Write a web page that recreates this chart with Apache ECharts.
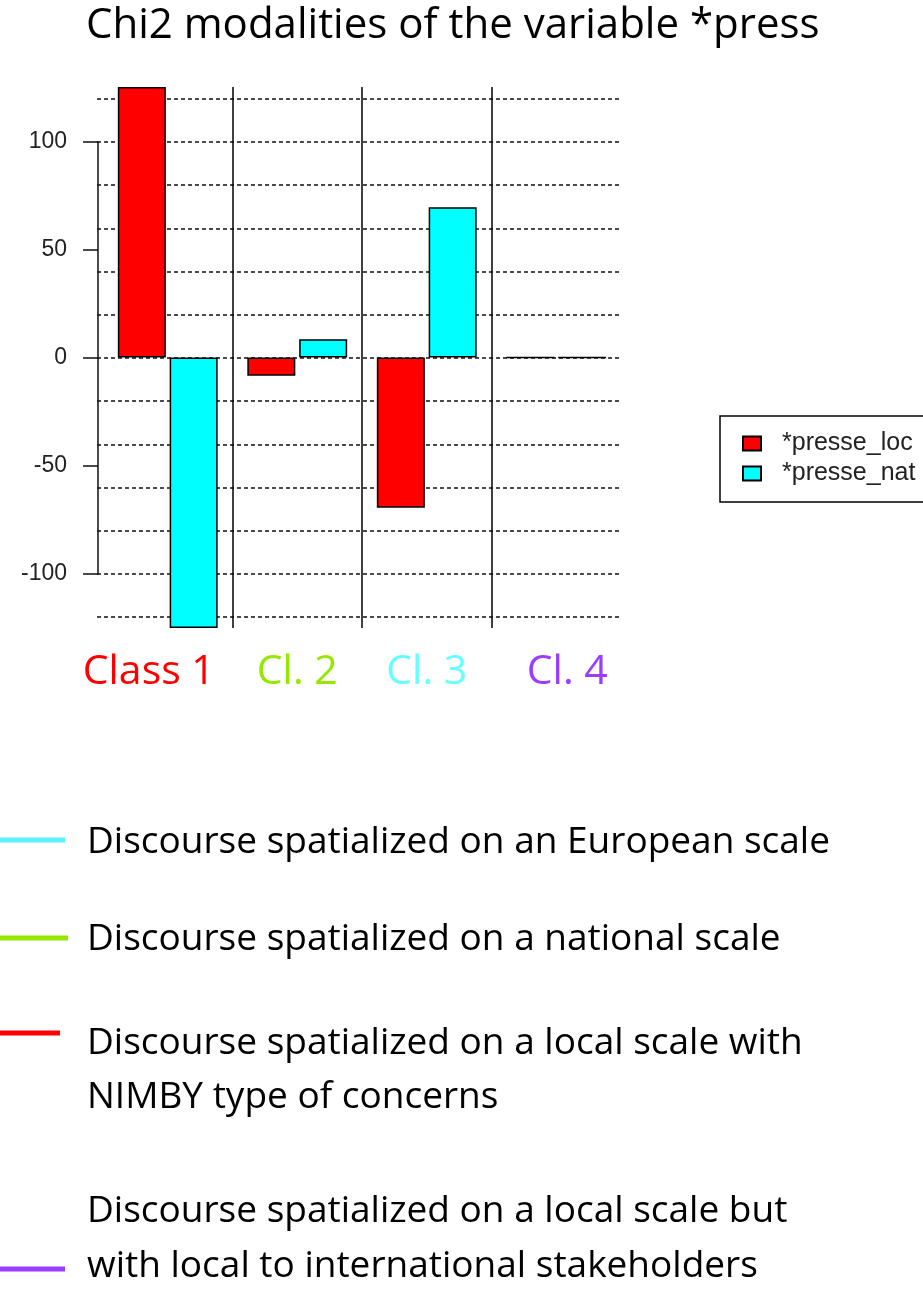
<!DOCTYPE html>
<html>
<head>
<meta charset="utf-8">
<title>Chi2 modalities of the variable *press</title>
<script src="https://cdn.jsdelivr.net/npm/echarts@6/dist/echarts.min.js"></script>
<style>
  html, body { margin: 0; padding: 0; background: #fff; }
  #chart { width: 923px; height: 1292px; }
</style>
</head>
<body>
<div id="chart"></div>
<script>
// data
const categories = ['Class 1', 'Cl. 2', 'Cl. 3', 'Cl. 4']
const presseLoc = [125.2, -8.4, -69.5, 0]
const presseNat = [-125.2, 8.4, 69.5, 0]
const seriesNames = ['*presse_loc', '*presse_nat']
const classColors = ['#ff0000', '#94e800', '#66ffff', '#9b3dff']
const yTickLabels = [-100, -50, 0, 50, 100]

// bottom notes (colour line + text)
const notes = [
  { color: '#5cf2ff', lines: ['Discourse spatialized on an European scale'] },
  { color: '#94e800', lines: ['Discourse spatialized on a national scale'] },
  { color: '#ff0000', lines: ['Discourse spatialized on a local scale with', 'NIMBY type of concerns'] },
  { color: '#9b3dff', lines: ['Discourse spatialized on a local scale but', 'with local to international stakeholders'] }
]

const chart = echarts.init(document.getElementById('chart'))

const textFont = 'Open Sans'

const classRich = {
  c0: { color: classColors[0], padding: [0, 38, 0, 0] },
  c1: { color: classColors[1] },
  c2: { color: classColors[2] },
  c3: { color: classColors[3], padding: [0, 0, 0, 22] }
}

// notes layout
const noteLayout = [
  { lineY: 840, lineEnd: 65, textY: [842] },
  { lineY: 938, lineEnd: 68, textY: [939] },
  { lineY: 1033, lineEnd: 60, textY: [1043, 1097] },
  { lineY: 1269, lineEnd: 65, textY: [1211, 1266] }
]
const graphics = []
notes.forEach((n, i) => {
  const L = noteLayout[i]
  graphics.push({
    type: 'line',
    shape: { x1: 0, y1: L.lineY, x2: L.lineEnd, y2: L.lineY },
    style: { stroke: n.color, lineWidth: 5 }
  })
  n.lines.forEach((t, j) => {
    graphics.push({
      type: 'text',
      x: 87,
      y: L.textY[j],
      style: {
        text: t,
        fill: '#000',
        font: '37px "Open Sans"',
        verticalAlign: 'middle'
      }
    })
  })
})

const option = {
  animation: false,
  title: {
    text: 'Chi2 modalities of the variable *press',
    left: 86,
    top: 5,
    padding: 0,
    textStyle: { fontFamily: textFont, fontSize: 42, fontWeight: 'normal', color: '#000' }
  },
  legend: {
    orient: 'vertical',
    left: 720,
    top: 416,
    data: seriesNames,
    icon: 'rect',
    itemWidth: 18,
    itemHeight: 14,
    itemGap: 5,
    padding: [15, 20, 16, 22],
    borderColor: '#000',
    borderWidth: 1.5,
    borderRadius: 0,
    textStyle: { fontFamily: 'Liberation Sans', fontSize: 25, color: '#222', padding: [0, 0, 0, 16] }
  },
  grid: [
    // bars
    { left: 103, top: 87, width: 518, height: 541 },
    // dotted reference lines every 20
    { left: 97, top: 98.7, width: 525, height: 518.4 },
    // left axis from -100 to 100
    { left: 98, top: 141.9, width: 10, height: 432.2 }
  ],
  xAxis: [
    {
      gridIndex: 0,
      type: 'category',
      data: categories,
      axisLine: { show: false },
      axisTick: { show: false },
      axisLabel: {
        interval: 0,
        margin: 24,
        fontFamily: textFont,
        fontSize: 41,
        formatter: (v, i) => '{c' + i + '|' + v + '}',
        rich: classRich
      },
      splitLine: {
        show: true,
        interval: 0,
        lineStyle: { color: ['rgba(0,0,0,0)', '#000', '#000', '#000', 'rgba(0,0,0,0)'], width: 1.5 }
      }
    },
    { gridIndex: 1, type: 'value', show: false },
    { gridIndex: 2, type: 'value', show: false }
  ],
  yAxis: [
    {
      gridIndex: 0,
      type: 'value',
      min: -125.2,
      max: 125.2,
      show: false
    },
    {
      gridIndex: 1,
      type: 'value',
      min: -120,
      max: 120,
      interval: 20,
      axisLine: { show: false },
      axisTick: { show: false },
      axisLabel: { show: false },
      splitLine: {
        show: true,
        lineStyle: { color: '#111', width: 1.6, type: [4, 3] }
      }
    },
    {
      gridIndex: 2,
      type: 'value',
      min: yTickLabels[0],
      max: yTickLabels[yTickLabels.length - 1],
      interval: 50,
      axisLine: { show: true, lineStyle: { color: '#111', width: 1.5 } },
      axisTick: { show: true, length: 15, lineStyle: { color: '#111', width: 1.5 } },
      axisLabel: { margin: 31, fontFamily: 'Liberation Sans', fontSize: 23, color: '#222' },
      splitLine: { show: false }
    }
  ],
  series: [
    {
      name: seriesNames[0],
      type: 'bar',
      xAxisIndex: 0,
      yAxisIndex: 0,
      data: presseLoc,
      barWidth: 48,
      barGap: '8%',
      itemStyle: { color: '#ff0000', borderColor: '#000', borderWidth: 1.5 },
      z: 5
    },
    {
      name: seriesNames[1],
      type: 'bar',
      xAxisIndex: 0,
      yAxisIndex: 0,
      data: presseNat,
      barWidth: 48,
      itemStyle: { color: '#00ffff', borderColor: '#000', borderWidth: 1.5 },
      z: 5
    }
  ],
  graphic: graphics
}

chart.setOption(option)
</script>
</body>
</html>
